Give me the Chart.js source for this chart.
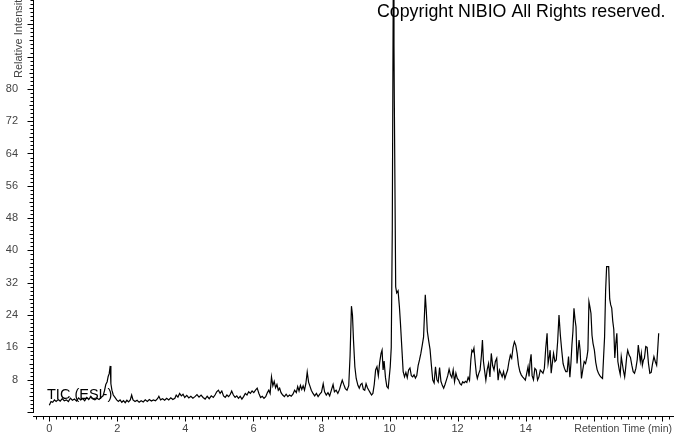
<!DOCTYPE html>
<html>
<head>
<meta charset="utf-8">
<title>TIC (ESI-)</title>
<script src="https://cdn.jsdelivr.net/npm/chart.js@4.4.0/dist/chart.umd.min.js"></script>
<style>
  html, body { margin: 0; padding: 0; background: #fff; }
  #wrap { width: 674px; height: 434px; }
</style>
</head>
<body>
<div id="wrap"><canvas id="tic" width="674" height="434"></canvas></div>
<script>
// retention time (min) and relative intensity (%)
const retentionTime = [
    0.00, 0.05, 0.10, 0.15, 0.20, 0.26, 0.32, 0.38, 0.44, 0.50,
    0.56, 0.62, 0.68, 0.74, 0.80, 0.86, 0.92, 0.98, 1.04, 1.10,
    1.16, 1.22, 1.28, 1.34, 1.40, 1.46, 1.52, 1.58, 1.62, 1.66,
    1.70, 1.73, 1.76, 1.79, 1.81, 1.84, 1.88, 1.93, 1.98, 2.03,
    2.08, 2.13, 2.18, 2.23, 2.28, 2.33, 2.38, 2.42, 2.46, 2.52,
    2.58, 2.64, 2.70, 2.76, 2.82, 2.88, 2.94, 3.00, 3.06, 3.12,
    3.18, 3.22, 3.27, 3.33, 3.39, 3.45, 3.51, 3.57, 3.63, 3.69,
    3.73, 3.78, 3.83, 3.88, 3.93, 3.98, 4.04, 4.10, 4.16, 4.22,
    4.28, 4.34, 4.40, 4.46, 4.52, 4.58, 4.64, 4.70, 4.76, 4.82,
    4.87, 4.92, 4.97, 5.02, 5.07, 5.12, 5.17, 5.22, 5.27, 5.32,
    5.36, 5.41, 5.46, 5.51, 5.56, 5.61, 5.66, 5.71, 5.76, 5.81,
    5.86, 5.91, 5.96, 6.01, 6.06, 6.11, 6.16, 6.21, 6.26, 6.31,
    6.36, 6.41, 6.45, 6.49, 6.53, 6.57, 6.61, 6.65, 6.69, 6.73,
    6.77, 6.81, 6.86, 6.91, 6.96, 7.01, 7.06, 7.11, 7.16, 7.21,
    7.26, 7.30, 7.34, 7.38, 7.42, 7.46, 7.50, 7.54, 7.58, 7.62,
    7.66, 7.70, 7.75, 7.80, 7.85, 7.90, 7.95, 8.00, 8.05, 8.09,
    8.14, 8.19, 8.24, 8.29, 8.34, 8.38, 8.43, 8.48, 8.53, 8.57,
    8.61, 8.65, 8.70, 8.75, 8.80, 8.84, 8.88, 8.91, 8.94, 8.98,
    9.02, 9.07, 9.11, 9.15, 9.19, 9.23, 9.27, 9.31, 9.35, 9.39,
    9.43, 9.47, 9.51, 9.55, 9.59, 9.63, 9.67, 9.71, 9.75, 9.78,
    9.81, 9.84, 9.88, 9.92, 9.96, 9.99, 10.02, 10.05, 10.08, 10.11,
    10.13, 10.14, 10.18, 10.21, 10.25, 10.29, 10.32, 10.36, 10.40, 10.44,
    10.48, 10.52, 10.56, 10.60, 10.64, 10.68, 10.72, 10.76, 10.80, 10.84,
    10.88, 10.92, 10.96, 11.00, 11.03, 11.05, 11.08, 11.11, 11.15, 11.19,
    11.23, 11.27, 11.31, 11.35, 11.39, 11.43, 11.47, 11.51, 11.55, 11.59,
    11.63, 11.67, 11.71, 11.75, 11.79, 11.83, 11.87, 11.91, 11.95, 11.99,
    12.03, 12.07, 12.11, 12.15, 12.19, 12.23, 12.27, 12.31, 12.35, 12.39,
    12.42, 12.45, 12.48, 12.52, 12.55, 12.58, 12.62, 12.66, 12.70, 12.73,
    12.76, 12.79, 12.83, 12.87, 12.91, 12.95, 12.99, 13.03, 13.07, 13.11,
    13.15, 13.19, 13.23, 13.27, 13.31, 13.35, 13.39, 13.43, 13.47, 13.51,
    13.55, 13.59, 13.63, 13.67, 13.71, 13.75, 13.79, 13.83, 13.87, 13.91,
    13.95, 13.99, 14.03, 14.07, 14.10, 14.13, 14.16, 14.19, 14.23, 14.27,
    14.31, 14.35, 14.39, 14.43, 14.47, 14.51, 14.55, 14.59, 14.63, 14.66,
    14.69, 14.72, 14.75, 14.79, 14.82, 14.86, 14.90, 14.94, 14.98, 15.02,
    15.06, 15.10, 15.14, 15.18, 15.22, 15.26, 15.30, 15.33, 15.36, 15.39,
    15.42, 15.45, 15.48, 15.51, 15.54, 15.57, 15.60, 15.64, 15.68, 15.72,
    15.76, 15.80, 15.83, 15.86, 15.89, 15.92, 15.95, 15.98, 16.02, 16.06,
    16.10, 16.14, 16.18, 16.22, 16.26, 16.29, 16.32, 16.35, 16.38, 16.44,
    16.47, 16.50, 16.53, 16.56, 16.59, 16.62, 16.65, 16.68, 16.71, 16.75,
    16.78, 16.81, 16.84, 16.87, 16.91, 16.94, 16.97, 17.00, 17.04, 17.08,
    17.12, 17.16, 17.20, 17.24, 17.28, 17.31, 17.34, 17.37, 17.40, 17.43,
    17.46, 17.49, 17.53, 17.57, 17.61, 17.65, 17.69, 17.73, 17.77, 17.81,
    17.85, 17.88, 17.91
];

const relIntensity = [
    1.7, 2.6, 2.4, 3.0, 2.6, 3.1, 2.7, 3.3, 2.8, 3.0,
    2.6, 3.4, 2.9, 3.2, 2.7, 3.5, 3.0, 3.3, 2.8, 3.6,
    3.1, 3.9, 3.2, 3.0, 3.4, 3.1, 3.6, 4.0, 5.2, 6.8,
    7.5, 8.8, 9.5, 11.4, 7.0, 5.4, 4.2, 3.6, 3.0, 2.6,
    3.0, 2.4, 2.8, 2.3, 2.9, 2.5, 3.0, 4.2, 3.0, 2.6,
    2.9, 2.4, 2.8, 2.5, 3.0, 2.6, 3.1, 2.7, 3.0, 2.8,
    3.3, 3.9, 3.0, 3.3, 2.9, 3.4, 3.0, 3.5, 3.1, 3.4,
    4.2, 3.7, 4.6, 4.0, 4.4, 3.6, 4.1, 3.5, 3.9, 3.4,
    3.8, 4.3, 3.7, 4.2, 3.6, 3.2, 3.9, 3.3, 4.0, 3.6,
    4.2, 5.0, 5.4, 4.6, 5.2, 4.0, 3.6, 4.2, 3.8, 4.4,
    5.2, 4.2, 3.6, 4.0, 3.4, 3.9, 3.2, 3.8, 4.6, 4.2,
    5.0, 4.6, 5.2, 4.8, 5.4, 5.9, 4.6, 3.6, 3.9, 3.4,
    3.8, 4.8, 5.4, 4.6, 8.7, 6.5, 7.6, 6.0, 6.8, 5.4,
    5.9, 4.8, 4.2, 3.8, 4.4, 3.8, 4.2, 3.9, 4.4, 5.4,
    4.8, 6.3, 5.2, 6.6, 5.6, 6.5, 5.4, 7.0, 9.9, 7.4,
    6.4, 5.4, 4.6, 4.0, 4.6, 3.8, 4.4, 4.9, 7.0, 5.0,
    4.2, 4.8, 4.0, 5.4, 6.8, 5.0, 5.4, 4.6, 5.6, 6.8,
    7.9, 6.9, 5.8, 5.4, 6.5, 14.0, 26.2, 24.0, 17.8, 11.2,
    8.3, 6.6, 5.9, 6.8, 7.1, 5.6, 5.4, 7.0, 6.0, 5.4,
    4.8, 4.2, 4.6, 6.8, 10.4, 11.2, 9.0, 12.3, 14.5, 15.3,
    10.4, 12.6, 8.5, 6.3, 5.9, 8.5, 11.2, 16.0, 45.0, 108.0,
    91.0, 77.0, 31.0, 29.5, 30.0, 26.0, 22.0, 16.0, 10.0, 8.7,
    9.8, 8.5, 10.4, 10.9, 9.0, 8.7, 9.2, 8.4, 9.0, 11.5,
    12.9, 14.5, 16.5, 18.6, 25.0, 29.0, 25.0, 20.0, 17.6, 15.5,
    11.5, 7.9, 7.2, 11.2, 8.0, 7.4, 11.0, 7.6, 6.6, 5.9,
    6.8, 7.9, 9.0, 10.6, 9.2, 8.5, 10.4, 7.5, 9.6, 8.3,
    7.9, 7.0, 6.7, 7.5, 7.2, 7.6, 7.3, 8.6, 7.8, 13.0,
    15.3, 14.9, 15.8, 12.0, 9.5, 8.3, 9.5, 10.4, 14.0, 17.8,
    12.5, 10.4, 7.9, 10.5, 12.0, 8.7, 14.5, 11.5, 10.4, 12.5,
    13.3, 7.9, 10.4, 9.6, 8.7, 10.0, 8.3, 9.4, 10.4, 12.5,
    14.1, 13.3, 16.0, 17.4, 16.5, 14.5, 11.6, 10.0, 9.2, 8.7,
    8.3, 7.9, 9.5, 11.2, 8.8, 12.5, 14.3, 9.0, 8.0, 10.8,
    10.4, 7.9, 8.7, 10.4, 10.0, 9.6, 10.8, 15.8, 19.5, 12.0,
    13.5, 15.3, 9.6, 12.5, 14.5, 12.5, 12.9, 17.4, 24.0, 19.0,
    15.3, 12.0, 10.8, 10.0, 10.0, 13.7, 8.6, 12.0, 16.6, 20.0,
    25.7, 23.0, 21.1, 12.0, 15.0, 17.8, 15.3, 8.3, 10.5, 12.5,
    12.0, 13.5, 15.3, 27.3, 26.0, 24.4, 19.0, 17.0, 15.3, 12.3,
    10.5, 9.6, 9.0, 8.6, 8.3, 13.5, 18.6, 30.0, 36.0, 36.0,
    28.0, 26.5, 25.7, 22.5, 20.5, 13.4, 17.0, 19.5, 12.5, 10.5,
    9.3, 13.7, 12.0, 10.4, 8.7, 11.0, 13.7, 15.3, 14.1, 13.5,
    11.6, 10.0, 9.6, 10.8, 13.0, 16.6, 14.5, 12.5, 14.5, 11.6,
    12.8, 13.3, 16.2, 16.0, 12.0, 9.6, 9.8, 12.0, 13.7, 12.5,
    11.6, 15.3, 19.5
];

// axis tick labels
const yTickLabels = [8, 16, 24, 32, 40, 48, 56, 64, 72, 80];
const xTickLabels = [0, 2, 4, 6, 8, 10, 12, 14];

const labelFont = { family: 'Arial, "Liberation Sans", sans-serif', size: 11 };
const labelColor = '#444';

// axis lines with minor / major tick marks, plus the captions
const axisDecor = {
    id: 'axisDecor',
    afterDraw(chart) {
        const ctx = chart.ctx;
        const area = chart.chartArea;
        const x = chart.scales.x;
        const y = chart.scales.y;
        ctx.save();
        ctx.strokeStyle = '#000';
        ctx.lineWidth = 1;
        ctx.beginPath();

        const ax = area.left - 0.5;
        ctx.moveTo(ax, 0);
        ctx.lineTo(ax, area.bottom + 1);
        for (let v = 0; v <= 102; v++) {
            const py = Math.round(y.getPixelForValue(v)) + 0.5;
            const len = v % 8 === 0 ? 6 : (v % 4 === 0 ? 4 : 3);
            ctx.moveTo(ax - len, py);
            ctx.lineTo(ax, py);
        }

        const ay = area.bottom + 4.5;
        ctx.moveTo(area.left - 1, ay);
        ctx.lineTo(area.right, ay);
        for (let k = -2; k <= 92; k++) {
            const px = Math.round(x.getPixelForValue(k * 0.2)) + 0.5;
            if (px < area.left - 1 || px > area.right) continue;
            const len = k % 10 === 0 ? 5 : 3;
            ctx.moveTo(px, ay);
            ctx.lineTo(px, ay + len);
        }
        ctx.stroke();

        ctx.fillStyle = labelColor;
        ctx.font = '10.5px Arial, "Liberation Sans", sans-serif';
        ctx.textBaseline = 'alphabetic';
        ctx.textAlign = 'right';
        ctx.fillText('Retention Time (min)', 672, 432);

        ctx.save();
        ctx.font = '11px Arial, "Liberation Sans", sans-serif';
        ctx.translate(22, 78);
        ctx.rotate(-Math.PI / 2);
        ctx.textAlign = 'left';
        ctx.fillText('Relative Intensity', 0, 0);
        ctx.restore();

        ctx.fillStyle = '#000';
        ctx.textAlign = 'left';
        ctx.font = '17.8px Arial, "Liberation Sans", sans-serif';
        ctx.fillText('Copyright NIBIO All Rights reserved.', 377, 17);

        ctx.font = '14.5px Arial, "Liberation Sans", sans-serif';
        ctx.fillText('TIC (ESI-)', 47, 399);
        ctx.restore();
    }
};

const ctx = document.getElementById('tic').getContext('2d');
const chart = new Chart(ctx, {
    type: 'line',
    data: {
        datasets: [{
            label: 'TIC (ESI-)',
            data: retentionTime.map((t, i) => ({ x: t, y: relIntensity[i] })),
            borderColor: '#000',
            borderWidth: 1.2,
            pointRadius: 0,
            tension: 0,
            fill: false
        }]
    },
    options: {
        responsive: false,
        animation: false,
        layout: { padding: 0 },
        plugins: {
            legend: { display: false },
            tooltip: { enabled: false }
        },
        scales: {
            x: {
                type: 'linear',
                min: -0.45,
                max: 18.36,
                grid: { display: false, drawTicks: false, tickLength: 0 },
                border: { display: false },
                ticks: {
                    autoSkip: false,
                    maxRotation: 0,
                    padding: 10,
                    color: labelColor,
                    font: labelFont
                },
                afterBuildTicks(scale) {
                    scale.ticks = xTickLabels.map(v => ({ value: v }));
                },
                afterFit(scale) {
                    scale.height = 22;
                    scale.paddingLeft = 0;
                    scale.paddingRight = 0;
                }
            },
            y: {
                min: 0,
                max: 102,
                grid: { display: false, drawTicks: false, tickLength: 0 },
                border: { display: false },
                ticks: {
                    autoSkip: false,
                    padding: 16,
                    color: labelColor,
                    font: labelFont
                },
                afterBuildTicks(scale) {
                    scale.ticks = yTickLabels.map(v => ({ value: v }));
                },
                afterFit(scale) {
                    scale.width = 34;
                    scale.paddingTop = 0;
                    scale.paddingBottom = 0;
                }
            }
        }
    },
    plugins: [axisDecor]
});
</script>
</body>
</html>
